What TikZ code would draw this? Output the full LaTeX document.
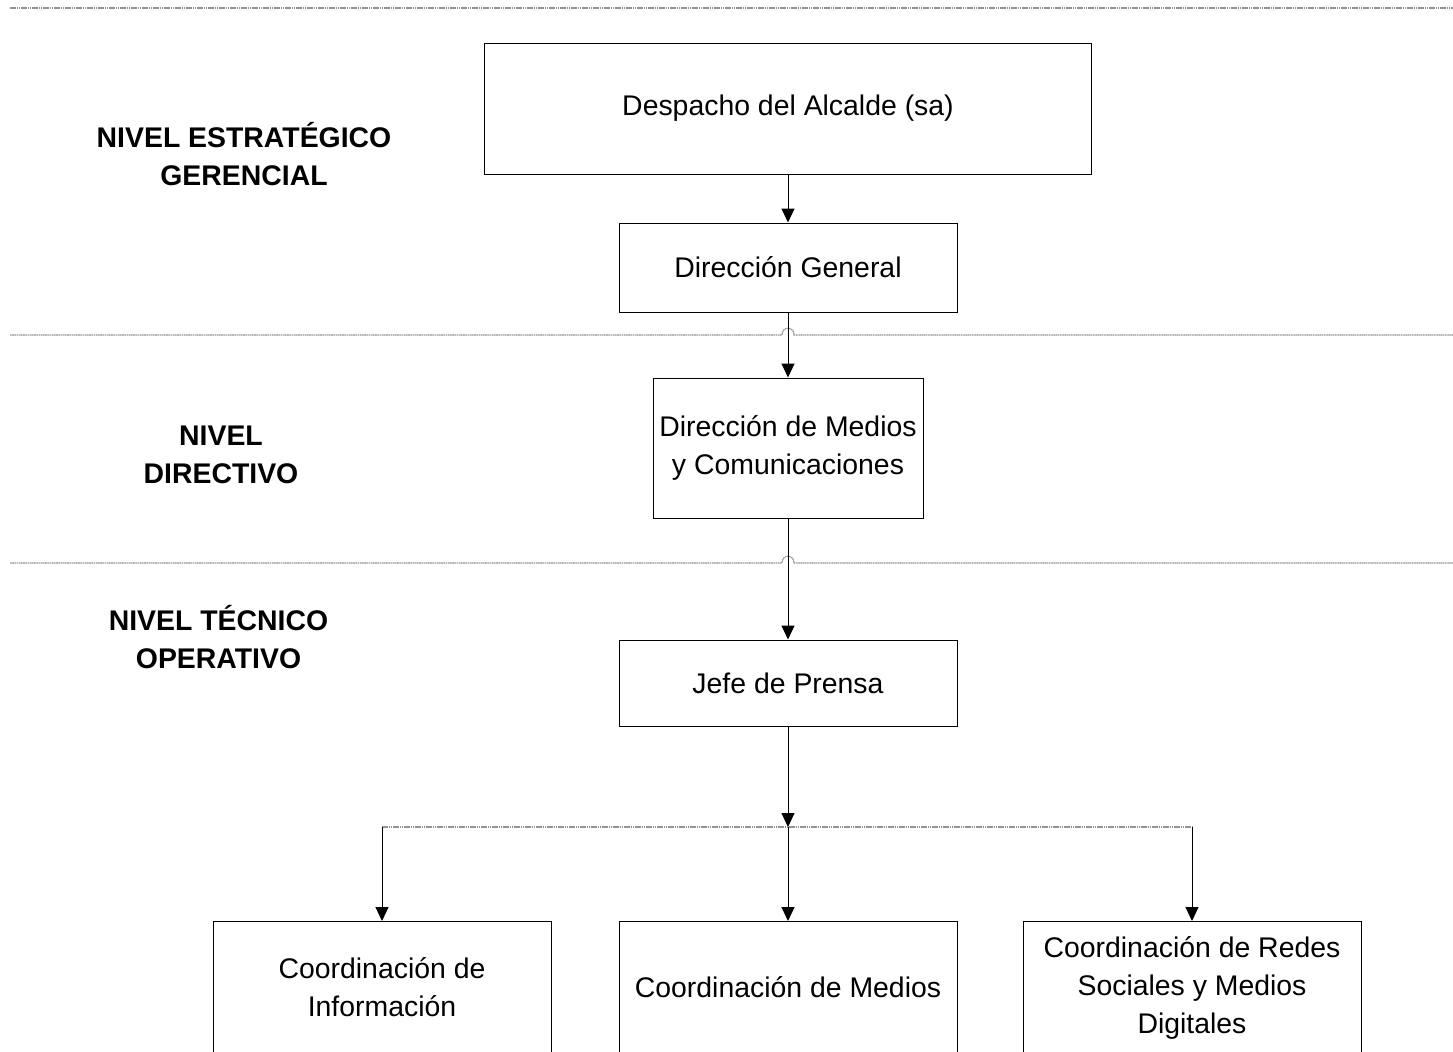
\documentclass[tikz,border=0pt]{standalone}
\usepackage{fontspec}
\setmainfont{Liberation Sans}
\usetikzlibrary{arrows.meta}
\begin{document}
\begin{tikzpicture}[x=0.5pt,y=-0.5pt,
  box/.style={draw=black,line width=0.5pt,fill=white,align=center,inner sep=0pt,
    font=\fontsize{14.2pt}{19pt}\selectfont},
  lvl/.style={align=center,font=\fontsize{14.2pt}{19pt}\selectfont\bfseries,inner sep=0pt},
  sep/.style={draw=gray!85,line width=0.6pt,dash pattern=on 0.8pt off 0.3pt},
  arr/.style={draw=black,line width=0.5pt,-{Triangle[length=7pt,width=6.5pt]}},
  plain/.style={draw=black,line width=0.5pt}]
\useasboundingbox (0,0) rectangle (1453,1051);
\clip (0,0) rectangle (1453,1051);

% level separators
\draw[sep] (10,8) -- (1453,8);
\draw[sep] (10,335) -- (782,335) .. controls (782,326) and (794,326) .. (794,335) -- (1453,335);
\draw[sep] (10,563) -- (782,563) .. controls (782,554) and (794,554) .. (794,563) -- (1453,563);

% level labels
\node[lvl] (l1) at (244,154) {NIVEL ESTRATÉGICO\\GERENCIAL};
\node[lvl] (l2) at (221,455) {NIVEL\\DIRECTIVO};
\node[lvl] (l3) at (218.5,637) {NIVEL TÉCNICO\\OPERATIVO};

% boxes
\node[box,minimum width=303.5pt,minimum height=65.5pt] (desp) at (788,108.5) {Despacho del Alcalde (sa)};
\node[box,minimum width=169pt,minimum height=44.5pt] (dg) at (788,267.5) {Dirección General};
\node[box,minimum width=135pt,minimum height=70pt] (dm) at (788,448) {Dirección de Medios\\y Comunicaciones};
\node[box,minimum width=169pt,minimum height=43pt] (jefe) at (788,683) {Jefe de Prensa};
\node[box,minimum width=169pt,minimum height=66pt] (ci) at (382,987.5) {Coordinación de\\Información};
\node[box,minimum width=169pt,minimum height=66pt] (cm) at (788,987.5) {Coordinación de Medios};
\node[box,minimum width=169pt,minimum height=66pt] (cr) at (1192,987.5) {Coordinación de Redes\\Sociales y Medios\\Digitales};

% connectors
\coordinate (bus) at (788,827);
\draw[arr] (desp) -- (dg);
\draw[arr] (dg) -- (dm);
\draw[arr] (dm) -- (jefe);
\draw[arr] (jefe) -- (bus);
\draw[sep] (ci.north |- bus) -- (cr.north |- bus);
\draw[arr] (ci.north |- bus) -- (ci.north);
\draw[arr] (bus) -- (cm.north);
\draw[arr] (cr.north |- bus) -- (cr.north);
\end{tikzpicture}
\end{document}
